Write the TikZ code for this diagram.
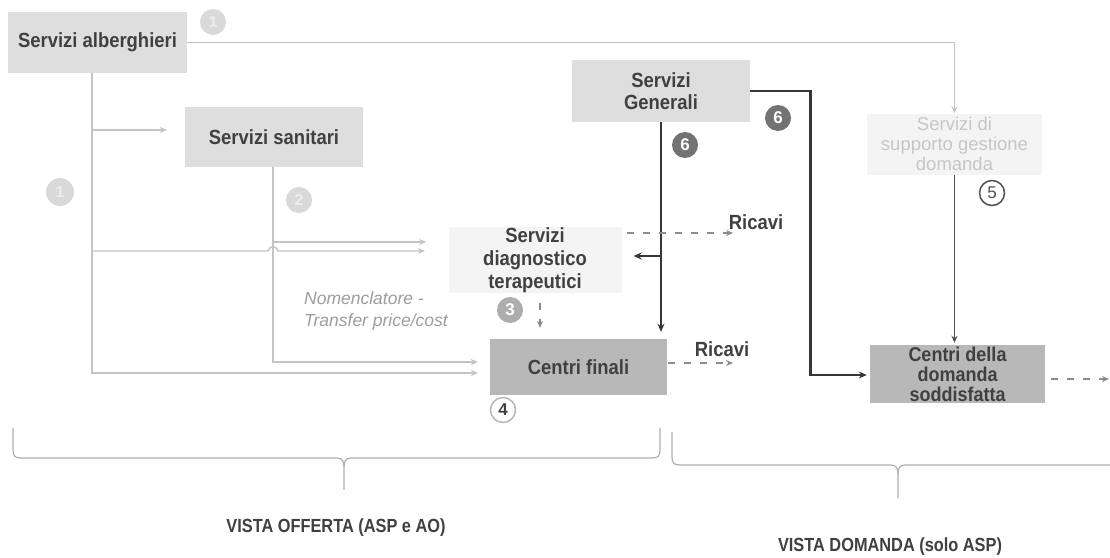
\documentclass[tikz,border=0pt]{standalone}
\usepackage{fontspec}
\setmainfont{Liberation Sans}
\newfontfamily\condfont{Liberation Sans}[FakeStretch=0.9]
\newfontfamily\narrowfont{Liberation Sans}[FakeStretch=0.86]
\usetikzlibrary{arrows.meta,calc}
\definecolor{boxl}{HTML}{DEDEDE}
\definecolor{boxd}{HTML}{B8B8B8}
\definecolor{boxf}{HTML}{F4F4F4}
\definecolor{txt}{HTML}{404040}
\definecolor{lline}{HTML}{C4C4C4}
\definecolor{dline}{HTML}{363636}
\definecolor{mline}{HTML}{505050}
\definecolor{dash}{HTML}{8C8C8C}
\definecolor{faded}{HTML}{C6C6C6}
\begin{document}
\begin{tikzpicture}[x=1pt,y=-1pt,
  box/.style={inner sep=0pt, align=center, font=\condfont\fontsize{20.5}{21.5}\selectfont\bfseries, text=txt},
  lbox/.style={box, fill=boxl},
  dbox/.style={box, fill=boxd},
  fbox/.style={box, fill=boxf},
  lt/.style={draw=lline, line width=1.4pt, -{Stealth[length=7pt,width=6pt]}},
  dk/.style={draw=dline, line width=2.6pt, -{Stealth[length=8pt,width=7pt]}},
  md/.style={draw=mline, line width=1.7pt, -{Stealth[length=7pt,width=6pt]}},
  dsh/.style={draw=dash, line width=1.6pt, dash pattern=on 7pt off 9pt, -{Stealth[length=7pt,width=6pt]}},
  brc/.style={draw=lline!90!black, line width=1.2pt},
  numfade/.style={circle, minimum size=26pt, inner sep=0pt, fill=boxl!95!gray, text=white!85!gray, font=\fontsize{16}{16}\selectfont\bfseries},
  numfill/.style={circle, minimum size=26pt, inner sep=0pt, text=white, font=\fontsize{17}{17}\selectfont\bfseries},
  numring/.style={circle, minimum size=25pt, inner sep=0pt, fill=white, line width=1.5pt, font=\fontsize{17}{17}\selectfont\bfseries},
  ric/.style={inner sep=0pt, font=\condfont\fontsize{20.5}{21}\selectfont\bfseries, text=txt},
  vista/.style={inner sep=0pt, font=\narrowfont\fontsize{19}{20}\selectfont\bfseries, text=txt}
]
\fill[white] (0,0) rectangle (1110,557);
\useasboundingbox (0,0) rectangle (1110,557);

% boxes
\node[lbox, minimum width=179pt, minimum height=61pt] (alb) at (97.5,42.5) {Servizi alberghieri};
\node[lbox, minimum width=178pt, minimum height=60pt] (san) at (274,137) {Servizi sanitari};
\node[lbox, minimum width=178pt, minimum height=62pt] (gen) at (661,91) {Servizi\\Generali};
\node[fbox, minimum width=173pt, minimum height=62pt, font=\condfont\fontsize{20.5}{23}\selectfont\bfseries] (diag) at (535,260) {Servizi\\diagnostico\\terapeutici};
\node[dbox, minimum width=177pt, minimum height=56pt] (fin) at (578.5,367) {Centri finali};
\node[fbox, minimum width=175pt, minimum height=61pt, font=\fontsize{18.5}{20}\selectfont, text=faded] (sup) at (954.5,144) {Servizi di\\supporto gestione\\domanda};
\node[dbox, minimum width=175pt, minimum height=58pt, font=\condfont\fontsize{20}{20}\selectfont\bfseries] (dom) at (957.5,374) {Centri della\\domanda\\soddisfatta};

% italic note
\node[inner sep=0pt, anchor=west, align=left, text=dash!85!white, font=\fontsize{17.5}{22}\selectfont\itshape] (nom) at (304,311) {Nomenclatore -\\Transfer price/cost};

% light connectors from alberghieri
\draw[lt] (alb.east) -- (alb.east -| sup.north) -- (sup.north);
\coordinate (av) at ([xshift=-5.5pt]alb.south);
\draw[lt, shorten >=12pt] (av) |- ([yshift=-6pt]fin.west);
\coordinate (a1) at (92,130);
\draw[lt, shorten >=18pt] (a1) -- (a1 -| san.west);
\coordinate (a2) at (92,251);
\coordinate (b2) at (268,251);
\coordinate (b3) at (278,251);
\coordinate (d2) at (425,251);
\draw[lt] (a2) -- (b2) .. controls (270,245) and (276,245) .. (b3) -- (d2);

% light connectors from sanitari
\coordinate (sv) at ([xshift=-1pt]san.south);
\draw[lt, shorten >=12pt] (sv) |- ([yshift=5pt]fin.west);
\coordinate (s1) at (273,242);
\draw[lt, shorten >=22pt] (s1) -- (s1 -| diag.west);

% dark connectors from generali
\draw[dk, shorten >=7pt] (gen.south) -- (gen.south |- fin.north);
\coordinate (g1) at (661,256);
\draw[dk, shorten >=12pt] (g1) -- (g1 -| diag.east);
\draw[dk, shorten >=3pt] (gen.east) -- ++(60,0) |- ([yshift=-1pt]dom.west);

% supporto -> domanda
\draw[md, shorten >=2pt] (sup.south) -- (sup.south |- dom.north);

% dashed arrows
\draw[dsh, shorten <=10pt, shorten >=11pt] ([xshift=5pt]diag.south) -- ([xshift=5pt]diag.south |- fin.north);
\coordinate (r1e) at (733,233);
\draw[dsh, shorten <=5pt] ([yshift=27pt]diag.east) -- (r1e);
\node[ric] (ric1) at (756,222) {Ricavi};
\coordinate (r2e) at (733,363);
\draw[dsh, shorten <=1pt] ([yshift=4pt]fin.east) -- (r2e);
\node[ric] (ric2) at (722,349) {Ricavi};
\coordinate (de) at (1109,379);
\draw[dsh, shorten <=6pt] ([yshift=-5pt]dom.east) -- (de);

% number circles
\node[numfade] (n1a) at (213,22) {1};
\node[numfade, minimum size=28pt] (n1b) at (60,192) {1};
\node[numfade] (n2) at (299,200) {2};
\node[numfill, fill=boxd!80!gray] (n3) at (510,310) {3};
\node[numring, draw=boxd, text=txt] (n4) at (503,410) {4};
\node[numring, draw=mline, text=mline, font=\fontsize{17}{17}\selectfont] (n5) at (992,193) {5};
\node[numfill, fill=gray!90!black] (n6a) at (685,145) {6};
\node[numfill, fill=gray!90!black] (n6b) at (778,118) {6};

% braces
\draw[brc] (13,428) -- (13,450) .. controls (13,456) and (15,458) .. (21,458) -- (337,458) .. controls (342,458) and (344,461) .. (344,467) -- (344,490);
\draw[brc] (344,467) .. controls (344,461) and (346,458) .. (351,458) -- (652,458) .. controls (658,458) and (660,456) .. (660,450) -- (660,428);
\draw[brc] (672,432) -- (672,457) .. controls (672,463) and (674,465) .. (680,465) -- (891,465) .. controls (896,465) and (898,468) .. (898,474) -- (898,498);
\draw[brc] (898,474) .. controls (898,468) and (900,465) .. (905,465) -- (1110,465);

\node[vista] (vo) at (336,528) {VISTA OFFERTA (ASP e AO)};
\node[vista] (vd) at (890,547) {VISTA DOMANDA (solo ASP)};
\end{tikzpicture}
\end{document}
